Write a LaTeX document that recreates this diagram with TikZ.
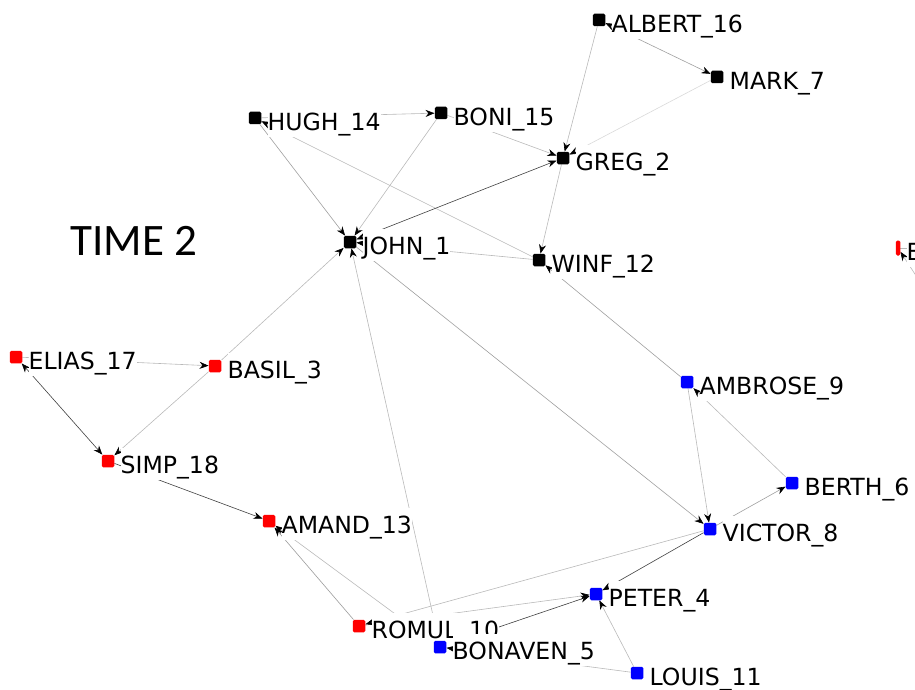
\documentclass[tikz,border=0pt]{standalone}
\usepackage{fontspec}
\setmainfont{DejaVu Sans}
\newfontfamily\titlefont{Carlito}
\usetikzlibrary{arrows.meta,backgrounds}

\begin{document}
\begin{tikzpicture}[x=1pt,y=-1pt,->,>={Stealth[length=9pt,width=7pt,black]},
  actor/.style={rectangle,rounded corners=1.5pt,minimum size=12.5pt,inner sep=0pt},
  lbl/.style={label={[anchor=base west,label distance=6pt,yshift=-12.6pt,fill=white,
      inner xsep=0pt,inner ysep=1pt,text height=24.5pt,text depth=5.8pt,
      font=\fontsize{23.6}{28}\selectfont]east:#1}},
  faint/.style={draw=gray!30,line width=0.6pt},
  tie/.style={draw=gray!55,line width=0.6pt},
  midtie/.style={draw=gray!75,line width=0.6pt},
  strongtie/.style={draw=black!75,line width=0.6pt}]
 \useasboundingbox (0,0) rectangle (915,690);
 \clip (0,0) rectangle (915,690);

 \node[font=\titlefont\fontsize{45}{50}\selectfont,anchor=base] (title) at (134,255) {TIME 2};

 % black group
 \node[actor,fill=black,lbl=ALBERT\_16] (albert) at (599,20) {};
 \node[actor,fill=black,lbl=MARK\_7]    (mark)   at (717,77) {};
 \node[actor,fill=black,lbl=HUGH\_14]   (hugh)   at (255,118) {};
 \node[actor,fill=black,lbl=BONI\_15]   (boni)   at (441,113) {};
 \node[actor,fill=black,lbl=GREG\_2]    (greg)   at (563,158) {};
 \node[actor,fill=black,lbl=JOHN\_1]    (john)   at (350,242) {};
 \node[actor,fill=black,lbl=WINF\_12]   (winf)   at (539,260) {};
 % red group
 \node[actor,fill=red,minimum width=4.5pt,minimum height=15pt,lbl=E] (eee) at (898,248) {};
 \node[actor,fill=red,lbl=ELIAS\_17]  (elias) at (16,357) {};
 \node[actor,fill=red,lbl=BASIL\_3]   (basil) at (215,366) {};
 \node[actor,fill=red,lbl=SIMP\_18]   (simp)  at (108,461) {};
 \node[actor,fill=red,lbl=AMAND\_13]  (amand) at (269,521) {};
 \node[actor,fill=red,lbl=ROMUL\_10]  (romul) at (359,626) {};
 % blue group
 \node[actor,fill=blue,lbl=AMBROSE\_9] (ambrose) at (687,382) {};
 \node[actor,fill=blue,lbl=BERTH\_6]   (berth)   at (792,483) {};
 \node[actor,fill=blue,lbl=VICTOR\_8]  (victor)  at (710,529) {};
 \node[actor,fill=blue,lbl=PETER\_4]   (peter)   at (596,594) {};
 \node[actor,fill=blue,lbl=BONAVEN\_5] (bonaven) at (440,647) {};
 \node[actor,fill=blue,lbl=LOUIS\_11]  (louis)   at (637,673) {};

 \coordinate (offa) at (950,328);
 \coordinate (offb) at (960,248);

 \begin{pgfonlayer}{background}
 \path (hugh) edge[tie]          (boni)
              edge[midtie]       (john)
       (winf) edge[tie]          (hugh)
              edge[tie]          (john)
       (boni) edge[tie]          (john)
              edge[tie]          (greg)
       (john) edge[strongtie,<->] (greg)
              edge[midtie]       (victor)
       (albert) edge[tie]        (greg)
              edge[midtie,<->]   (mark)
       (mark) edge[faint]        (greg)
       (greg) edge[tie]          (winf)
       (ambrose) edge[midtie]    (winf)
              edge[tie]          (victor)
       (basil) edge[tie]         (john)
              edge[tie]          (simp)
       (bonaven) edge[tie]       (john)
              edge[tie]          (amand)
              edge[strongtie]    (peter)
       (elias) edge[tie]         (basil)
              edge[strongtie,<->] (simp)
       (simp) edge[strongtie]    (amand)
       (romul) edge[midtie]      (amand)
              edge[tie]          (peter)
       (victor) edge[tie]        (romul)
              edge[strongtie]    (peter)
              edge[midtie]       (berth)
       (berth) edge[tie]         (ambrose)
       (louis) edge[tie]         (peter)
              edge[tie]          (bonaven)
       (offa) edge[tie]          (eee)
       (eee)  edge[tie,-]        (offb);
 \end{pgfonlayer}
\end{tikzpicture}
\end{document}
